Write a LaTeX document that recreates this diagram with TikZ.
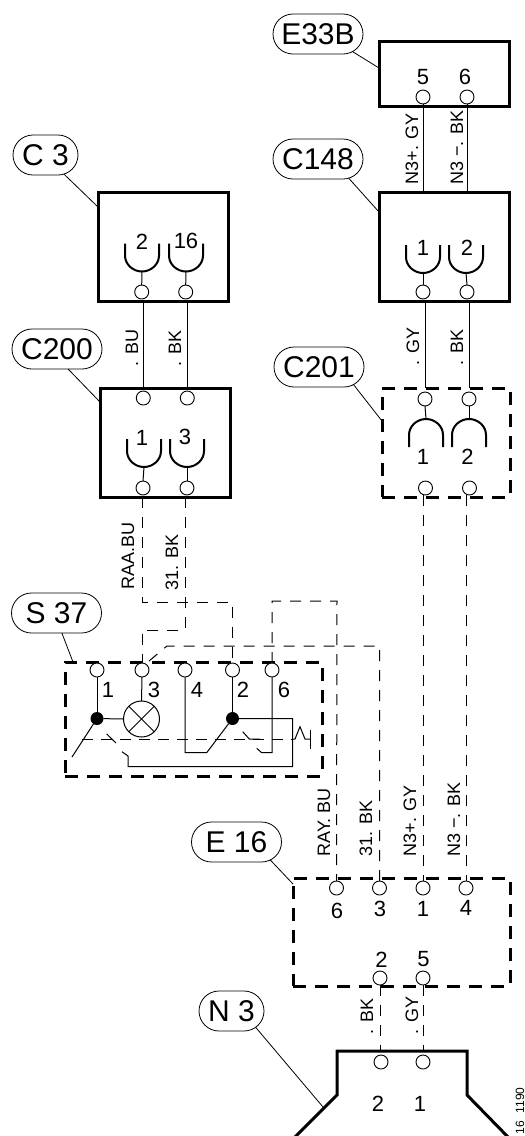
\documentclass[tikz,border=0pt]{standalone}
\usepackage{fontspec}
\setmainfont{Liberation Sans}
\usetikzlibrary{shapes, positioning}

\begin{document}
\begin{tikzpicture}[x=1pt, y=-1pt, node distance=44pt, line width=1pt,
    box/.style={draw, line width=3pt, outer sep=0pt, inner sep=0pt},
    dashbox/.style={box, dash pattern=on 13pt off 9pt},
    pin/.style={circle, draw, line width=0.9pt, fill=white, minimum size=14pt, inner sep=0pt, outer sep=0pt},
    junction/.style={circle, fill=black, minimum size=13pt, inner sep=0pt, outer sep=0pt},
    lamp/.style={circle, draw, line width=1pt, minimum size=36pt, inner sep=0pt, outer sep=0pt},
    tag/.style={rounded rectangle, draw, line width=0.8pt, minimum height=40pt, inner sep=0pt, outer sep=0pt, font=\fontsize{30}{30}\selectfont},
    pinno/.style={inner sep=0pt, font=\fontsize{22}{22}\selectfont},
    wirelabel/.style={rotate=90, anchor=west, inner sep=0pt, font=\fontsize{18}{18}\selectfont},
    dwire/.style={dash pattern=on 11pt off 9pt},
    cup/.pic={\draw[line width=2pt] (-17,0) -- (-17,12) .. controls (-17,21) and (-9,28) .. (0,28) .. controls (9,28) and (17,21) .. (17,12) -- (17,0);
        \coordinate (-base) at (0,28);}]
    \useasboundingbox (0,0) rectangle (525,1136);

    \node[tag, minimum width=90pt] (e33btag) at (318,34) {E33B};
    \node[tag, minimum width=90pt] (c148tag) at (318,159) {C148};
    \node[tag, minimum width=65pt] (c3tag) at (45.5,155) {C 3};
    \node[tag, minimum width=90pt] (c200tag) at (57,349) {C200};
    \node[tag, minimum width=90pt] (c201tag) at (319,367) {C201};
    \node[tag, minimum width=90pt] (s37tag) at (56.5,613) {S 37};
    \node[tag, minimum width=90pt] (e16tag) at (236.5,842) {E 16};
    \node[tag, minimum width=65pt] (n3tag) at (231.5,1011) {N 3};

    \node[box, minimum width=130pt, minimum height=65pt] (e33b) at (444,73.5) {};
    \node[box, minimum width=130pt, minimum height=109pt] (c148) at (444,246.5) {};
    \node[box, minimum width=130pt, minimum height=109pt] (c3) at (163,246.5) {};
    \node[box, minimum width=130pt, minimum height=109pt] (c200) at (165,442.5) {};
    \node[dashbox, minimum width=128pt, minimum height=109pt] (c201) at (446,442.5) {};
    \node[dashbox, minimum width=257pt, minimum height=114pt] (s37) at (193.5,719) {};
    \node[dashbox, minimum width=217pt, minimum height=108pt] (e16) at (401.5,932) {};

    \coordinate (n3left) at (337,1095);
    \coordinate (n3topl) at (337,1051);
    \coordinate (n3topr) at (467,1051);
    \coordinate (n3right) at (467,1095);
    \draw[line width=3pt] (295,1137) -- (n3left) -- (n3topl) -- (n3topr) -- (n3right) -- (508,1137);

    \node[pin] (e33ba) at (423,97) {};
    \node[pin, right of=e33ba] (e33bb) {};
    \node[pin] (c148a) at (423,292) {};
    \node[pin, right of=c148a] (c148b) {};
    \node[pin] (c3a) at (141.7,292) {};
    \node[pin, right of=c3a] (c3b) {};
    \node[pin] (c200a) at (143.3,398) {};
    \node[pin, right of=c200a] (c200b) {};
    \node[pin] (c200c) at (143,488) {};
    \node[pin, right of=c200c] (c200d) {};
    \node[pin] (c201a) at (425,399) {};
    \node[pin, right of=c201a] (c201b) {};
    \node[pin] (c201c) at (425.5,488) {};
    \node[pin, right of=c201c] (c201d) {};
    \node[pin] (s37a) at (97,670) {};
    \node[pin] (s37b) at (142,670) {};
    \node[pin] (s37c) at (185,670) {};
    \node[pin] (s37d) at (232.5,670) {};
    \node[pin] (s37e) at (272,670) {};
    \node[pin] (e16a) at (336.5,888) {};
    \node[pin] (e16b) at (379.5,888) {};
    \node[pin] (e16c) at (423,888) {};
    \node[pin] (e16d) at (466,888) {};
    \node[pin] (e16e) at (380,978) {};
    \node[pin] (e16f) at (423,978) {};
    \node[pin] (n3a) at (381,1062) {};
    \node[pin] (n3b) at (423,1062) {};

    \pic (cupc148a) at (423,245) {cup};
    \pic (cupc148b) at (466,245) {cup};
    \pic (cupc3a) at (142,243.5) {cup};
    \pic (cupc3b) at (186,243.5) {cup};
    \pic (cupc200a) at (144,439) {cup};
    \pic (cupc200b) at (187,439) {cup};
    \pic[yscale=-1] (cupc201a) at (426,447) {cup};
    \pic[yscale=-1] (cupc201b) at (469,447) {cup};

    \node[pinno] at (423,77) {5};
    \node[pinno] at (465,77) {6};
    \node[pinno] at (423,248) {1};
    \node[pinno] at (467,248) {2};
    \node[pinno] at (142,242) {2};
    \node[pinno] at (186,241) {16};
    \node[pinno] at (142,438) {1};
    \node[pinno] at (185,437) {3};
    \node[pinno] at (423,457) {1};
    \node[pinno] at (467.5,457) {2};
    \node[pinno] at (108,690) {1};
    \node[pinno] at (154,690) {3};
    \node[pinno] at (197,690) {4};
    \node[pinno] at (243,690) {2};
    \node[pinno] at (284,690) {6};
    \node[pinno] at (337,911) {6};
    \node[pinno] at (380,909) {3};
    \node[pinno] at (423,909) {1};
    \node[pinno] at (466,908) {4};
    \node[pinno] at (381.5,960) {2};
    \node[pinno] at (423.5,959) {5};
    \node[pinno] at (378,1104) {2};
    \node[pinno] at (420,1104) {1};

    \node[wirelabel] at (412,185) {N3+. GY};
    \node[wirelabel] at (457,185) {N3 −. BK};
    \node[wirelabel] at (132,367) {. BU};
    \node[wirelabel] at (175,367) {. BK};
    \node[wirelabel] at (413,366) {. GY};
    \node[wirelabel] at (457,366) {. BK};
    \node[wirelabel] at (128,590) {RAA.BU};
    \node[wirelabel] at (172,591) {31. BK};
    \node[wirelabel] at (324,857) {RAY. BU};
    \node[wirelabel] at (366,857) {31. BK};
    \node[wirelabel] at (410,857) {N3+. GY};
    \node[wirelabel] at (454,857) {N3 −. BK};
    \node[wirelabel] at (367,1035) {. BK};
    \node[wirelabel] at (412,1035) {. GY};
    \node[rotate=90, anchor=east, inner sep=0pt, font=\fontsize{12}{12}\selectfont] at (520,1087) {16\hspace{8pt}1190};

    \coordinate (e33blead) at (379,68);
    \coordinate (c148lead) at (379,212);
    \coordinate (c3lead) at (98,207);
    \coordinate (c200lead) at (100,402);
    \coordinate (c201lead) at (382,421);
    \coordinate (s37lead) at (73,662);
    \coordinate (e16lead) at (293,884);
    \coordinate (n3lead) at (323,1107);
    \draw[line width=0.8pt]
            (e33btag.-27) edge (e33blead)
            (c148tag.-32) edge (c148lead)
            (c3tag.-46) edge (c3lead)
            (c200tag.-61) edge (c200lead)
            (c201tag.-27) edge (c201lead)
            (s37tag.-75) edge (s37lead)
            (e16tag.-28) edge (e16lead)
            (n3tag.-34) edge (n3lead)
            ;

    \draw
            (e33ba.south) edge (c148a |- c148.north)
            (e33bb.south) edge (c148b |- c148.north)
            (c148a.north) edge (cupc148a-base)
            (c148b.north) edge (cupc148b-base)
            (c3a.north) edge (cupc3a-base)
            (c3b.north) edge (cupc3b-base)
            (c200c.north) edge (cupc200a-base)
            (c200d.north) edge (cupc200b-base)
            (c201a.south) edge (cupc201a-base)
            (c201b.south) edge (cupc201b-base)
            (c200a |- c3.south) edge (c200a |- c200.north)
            (c200b |- c3.south) edge (c200b |- c200.north)
            (c201a |- c148.south) edge (c201a |- c201.north)
            (c201b |- c148.south) edge (c201b |- c201.north)
            ;

    \coordinate (raa1) at (142,602);
    \coordinate (raa2) at (185,630);
    \coordinate (ray1) at (337,601);
    \coordinate (bk1) at (167,646);
    \draw[dwire] (raa1 |- c200.south) -- (raa1) -| (s37d.north);
    \draw[dwire] (raa2 |- c200.south) -- (raa2) -| (s37b.north);
    \draw[dwire] (s37e.north) |- (ray1) -- (e16a.north);
    \draw[dwire] (e16b.north) |- (bk1) -- (s37b.60);
    \draw[dwire] (e16c |- c201c.south) -- (e16c.north);
    \draw[dwire] (e16d |- c201c.south) -- (e16d.north);
    \draw[dwire] (e16e.south) -- (e16e |- n3topl);
    \draw[dwire] (e16f.south) -- (e16f |- n3topl);

    \node[junction] (s37j1) at (97,718.5) {};
    \node[junction] (s37j2) at (232.5,718.5) {};
    \node[lamp] (s37lamp) at (141.5,719) {};
    \coordinate (blade1) at (72,757);
    \coordinate (arm4) at (206.7,752.7);
    \coordinate (ret1) at (292.7,766.7);
    \coordinate (ret2) at (128,756);
    \coordinate (ret3) at (122,751.7);
    \coordinate (arm6) at (261.7,752.7);
    \coordinate (arm6end) at (256.7,748.3);
    \draw
            (s37a.south) edge (s37j1)
            (s37d.south) edge (s37j2)
            (s37b.south) edge (s37lamp.north)
            (s37j1) edge (s37lamp.west)
            (s37j1) edge (blade1)
            (s37lamp.45) edge (s37lamp.225)
            (s37lamp.135) edge (s37lamp.-45)
            ;
    \draw (s37c.south) |- (arm4) -- (s37j2);
    \draw (s37j2) -| (ret1) -| (ret2) -- (ret3);
    \draw (s37e.south) |- (arm6) -- (arm6end);

    \coordinate (lever1) at (82,739);
    \coordinate (lever2) at (292,739);
    \draw[dwire, dash pattern=on 11pt off 8pt] (lever1) -- (lever2);
    \draw (106.7,734) -- (116,743);
    \draw (242.7,731.7) -- (249.3,739) -- (260,739);
    \draw (lever2) -- (295,739) -- (300,726.7) -- (305,739) -- (310.7,739);
    \draw (310.7,730) -- (310.7,749);
\end{tikzpicture}
\end{document}
